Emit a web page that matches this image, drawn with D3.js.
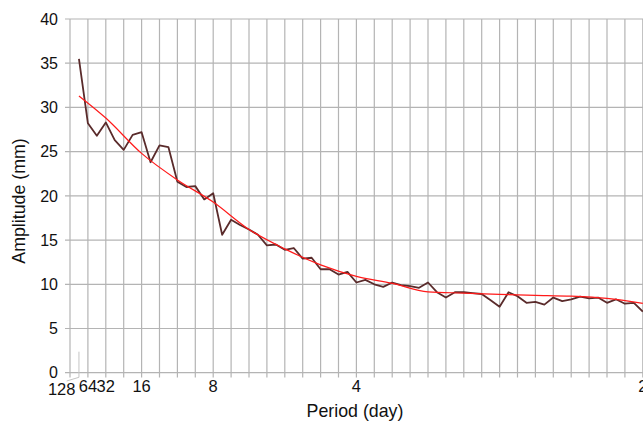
<!DOCTYPE html>
<html>
<head>
<meta charset="utf-8">
<script src="https://cdn.jsdelivr.net/npm/d3@7"></script>
<style>
  html, body { margin: 0; padding: 0; background: #fff; }
  svg { display: block; font-family: "Liberation Sans", Arial, sans-serif; }
</style>
</head>
<body>
<svg id="chart" width="643" height="423"></svg>
<script>
// Harmonic index k -> frequency k/128 (cycles per day), period = 128/k days
const harmonics = d3.range(1, 65);
const amplitude = [
  35.5, 28.2, 26.8, 28.3, 26.3, 25.2, 26.9, 27.2, 23.8, 25.7,
  25.5, 21.6, 21.0, 21.1, 19.6, 20.3, 15.6, 17.3, 16.7, 16.2,
  15.6, 14.4, 14.5, 13.9, 14.1, 12.9, 13.0, 11.7, 11.7, 11.1,
  11.4, 10.2, 10.5, 10.0, 9.7, 10.2, 9.9, 9.8, 9.6, 10.2,
  9.1, 8.5, 9.1, 9.1, 9.0, 8.9, 8.2, 7.45, 9.1, 8.65,
  7.9, 8.0, 7.7, 8.5, 8.1, 8.3, 8.6, 8.4, 8.5, 7.9,
  8.3, 7.8, 7.9, 6.9
];
// Trend line read at selected harmonics
const trendHarmonics = [1, 4, 8, 12, 16, 20, 24, 28, 32, 36, 40, 44, 48, 52, 56, 60, 64];
const trendValues = [31.3, 28.8, 24.8, 21.8, 19.3, 16.2, 14.0, 12.2, 10.9, 10.1, 9.15, 9.0, 8.85, 8.75, 8.65, 8.4, 7.85];

const periodTicks = [128, 64, 32, 16, 8, 4, 2];
const yTicks = [0, 5, 10, 15, 20, 25, 30, 35, 40];
const gridSteps = d3.range(0, 33); // grid every 1/64 cycles/day

const svg = d3.select("#chart");
const x = d3.scaleLinear().domain([0, 0.5]).range([70, 642.8]);
const y = d3.scaleLinear().domain([0, 40]).range([372.7, 19]);
const gridColor = "#b4b4b4";

// horizontal gridlines
svg.append("g").selectAll("line").data(yTicks).join("line")
  .attr("x1", 65).attr("x2", 643)
  .attr("y1", d => y(d)).attr("y2", d => y(d))
  .attr("stroke", gridColor).attr("stroke-width", 1.2);

// vertical gridlines (extend below axis as ticks)
svg.append("g").selectAll("line").data(gridSteps).join("line")
  .attr("x1", d => x(d / 64)).attr("x2", d => x(d / 64))
  .attr("y1", y(40)).attr("y2", 377.5)
  .attr("stroke", gridColor).attr("stroke-width", 1.2);

// y tick labels
svg.append("g").selectAll("text").data(yTicks).join("text")
  .attr("x", 58).attr("y", d => y(d)).attr("dy", "0.36em")
  .attr("text-anchor", "end").attr("font-size", 16).attr("fill", "#111")
  .text(d => d);

// x tick labels (period)
svg.append("g").selectAll("text").data(periodTicks).join("text")
  .attr("x", d => d === 128 ? 61.7 : x(1 / d))
  .attr("y", d => d === 128 ? 395 : 392.3)
  .attr("text-anchor", "middle").attr("font-size", 16.5).attr("fill", "#111")
  .text(d => d);

// leader line for the 128 label
const lx = x(1 / 128);
svg.append("path")
  .attr("d", `M${lx},351.7 L${lx},377.3 L66.7,381`)
  .attr("fill", "none").attr("stroke", "#c4c4c4").attr("stroke-width", 1);

// amplitude line
const line = d3.line().x(d => x(d[0] / 128)).y(d => y(d[1]));
svg.append("path")
  .datum(harmonics.map((k, i) => [k, amplitude[i]]))
  .attr("d", line)
  .attr("fill", "none").attr("stroke", "#5a2b2b").attr("stroke-width", 1.8)
  .attr("stroke-linejoin", "round");

// trend line
const trendLine = d3.line().curve(d3.curveMonotoneX)
  .x(d => x(d[0] / 128)).y(d => y(d[1]));
svg.append("path")
  .datum(trendHarmonics.map((k, i) => [k, trendValues[i]]))
  .attr("d", trendLine)
  .attr("fill", "none").attr("stroke", "#ff1a1a").attr("stroke-width", 1.2);

// axis titles
svg.append("text")
  .attr("transform", "translate(25,201) rotate(-90)")
  .attr("text-anchor", "middle").attr("font-size", 17.8).attr("fill", "#111")
  .text("Amplitude (mm)");
svg.append("text")
  .attr("x", 355).attr("y", 417)
  .attr("text-anchor", "middle").attr("font-size", 17.8).attr("fill", "#111")
  .text("Period (day)");
</script>
</body>
</html>
